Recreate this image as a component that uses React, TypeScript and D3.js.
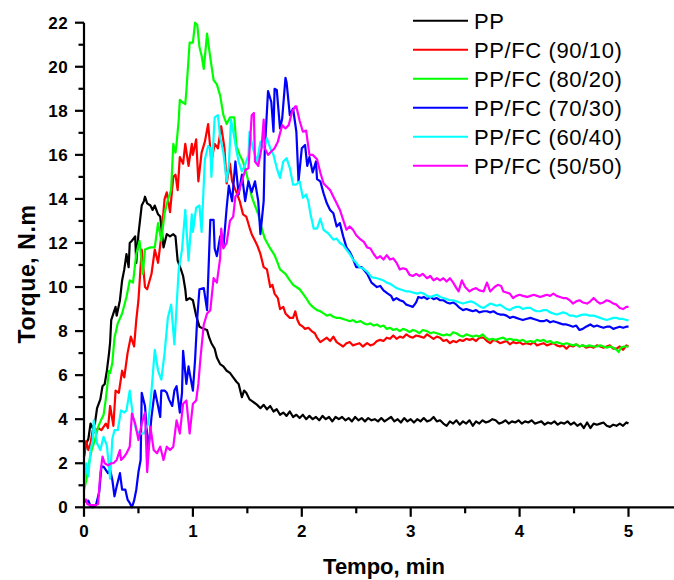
import React from "react";
import * as d3 from "d3";

const seriesNames = ["PP", "PP/FC (90/10)", "PP/FC (80/20)", "PP/FC (70/30)", "PP/FC (60/40)", "PP/FC (50/50)"];
const seriesColors = ["#000000", "#ff0000", "#00ff00", "#0000ff", "#00ffff", "#ff00ff"];
const xTicks = [0, 1, 2, 3, 4, 5];
const yTicks = [0, 2, 4, 6, 8, 10, 12, 14, 16, 18, 20, 22];
const xMinor = [0.5, 1.5, 2.5, 3.5, 4.5];
const yMinor = [1, 3, 5, 7, 9, 11, 13, 15, 17, 19, 21];
const xTitle = "Tempo, min";
const yTitle = "Torque, N.m";

const ppData: [number, number][] = [[0,2.3],[0.02,2.9],[0.04,3.1],[0.06,3.8],[0.08,3.6],[0.1,3.8],[0.12,4.5],[0.15,4.9],[0.17,5.5],[0.19,5.6],[0.21,6.2],[0.23,7.0],[0.24,7.5],[0.25,8.5],[0.27,8.8],[0.29,9.1],[0.3,8.7],[0.33,9.4],[0.35,10.3],[0.37,10.8],[0.39,11.5],[0.41,10.9],[0.42,12.0],[0.44,12.1],[0.47,12.3],[0.48,11.1],[0.5,12.4],[0.53,13.7],[0.55,13.9],[0.56,14.1],[0.58,13.8],[0.61,13.7],[0.63,13.5],[0.65,13.7],[0.68,13.3],[0.7,13.2],[0.73,11.8],[0.76,12.4],[0.79,12.3],[0.82,12.4],[0.84,12.3],[0.86,11.2],[0.89,10.8],[0.91,10.5],[0.93,9.9],[0.94,9.4],[0.97,9.5],[1.0,9.4],[1.03,8.7],[1.06,8.2],[1.1,8.1],[1.13,8.05],[1.15,7.7],[1.17,7.45],[1.2,7.2],[1.22,6.8],[1.25,6.5],[1.28,6.4],[1.31,6.2],[1.34,6.1],[1.37,5.9],[1.4,5.7],[1.42,5.6],[1.45,5.0],[1.47,5.3],[1.49,5.2],[1.52,4.9],[1.55,4.8],[1.59,4.65],[1.62,4.5],[1.65,4.65],[1.68,4.45],[1.71,4.6],[1.74,4.35],[1.77,4.45],[1.8,4.2],[1.83,4.3],[1.86,4.15],[1.89,4.35],[1.92,4.1],[1.95,4.2],[1.98,4.05],[2.01,4.2],[2.04,4.0],[2.07,4.15],[2.1,4.0],[2.13,4.1],[2.16,3.95],[2.19,4.15],[2.22,4.0],[2.25,4.1],[2.28,3.9],[2.31,4.1],[2.34,4.0],[2.37,4.1],[2.4,3.95],[2.43,4.05],[2.46,3.9],[2.49,4.1],[2.52,3.95],[2.55,4.05],[2.58,3.9],[2.61,4.05],[2.64,3.95],[2.67,4.0],[2.7,3.9],[2.73,4.05],[2.76,3.9],[2.79,4.0],[2.82,4.1],[2.85,3.9],[2.88,4.0],[2.91,3.85],[2.94,4.05],[2.97,3.9],[3.0,4.0],[3.03,3.85],[3.06,4.0],[3.09,3.9],[3.12,4.05],[3.15,3.9],[3.18,3.95],[3.21,4.1],[3.24,3.9],[3.27,3.95],[3.3,3.8],[3.33,3.7],[3.36,3.9],[3.39,3.8],[3.42,3.95],[3.45,3.75],[3.48,3.9],[3.51,3.8],[3.54,3.95],[3.57,3.7],[3.6,3.9],[3.63,3.8],[3.66,3.95],[3.69,3.85],[3.72,3.9],[3.75,4.0],[3.78,3.95],[3.81,3.8],[3.84,3.85],[3.87,3.95],[3.9,3.8],[3.93,3.9],[3.96,3.85],[3.99,3.95],[4.02,3.8],[4.05,3.9],[4.08,3.85],[4.11,3.95],[4.14,3.8],[4.17,3.85],[4.2,3.9],[4.23,3.75],[4.26,3.85],[4.29,3.8],[4.32,3.9],[4.35,3.75],[4.38,3.85],[4.41,3.8],[4.44,3.9],[4.47,3.75],[4.5,3.85],[4.53,3.7],[4.56,3.8],[4.59,3.6],[4.62,3.85],[4.65,3.6],[4.68,3.8],[4.71,3.75],[4.74,3.8],[4.77,3.85],[4.8,3.7],[4.83,3.65],[4.86,3.75],[4.89,3.7],[4.92,3.8],[4.95,3.7],[4.98,3.85],[5.0,3.8]];

const fc9010Data: [number, number][] = [[0,2.3],[0.02,3.0],[0.04,2.6],[0.06,2.9],[0.08,3.5],[0.1,3.4],[0.13,3.6],[0.16,3.5],[0.2,3.8],[0.22,3.6],[0.24,4.6],[0.27,3.7],[0.29,5.3],[0.32,5.2],[0.35,6.2],[0.37,5.9],[0.4,7.0],[0.43,7.75],[0.46,7.3],[0.48,8.5],[0.5,9.4],[0.53,11.7],[0.56,10.0],[0.58,9.9],[0.62,10.6],[0.65,11.7],[0.68,11.1],[0.71,12.3],[0.74,14.0],[0.76,14.3],[0.79,13.4],[0.82,15.0],[0.84,15.1],[0.86,14.4],[0.88,15.9],[0.91,15.6],[0.93,16.5],[0.96,15.5],[0.99,16.5],[1.0,16.0],[1.03,16.7],[1.05,14.8],[1.08,16.1],[1.11,16.6],[1.14,17.4],[1.17,15.7],[1.2,16.5],[1.23,16.3],[1.26,17.3],[1.29,16.3],[1.31,14.7],[1.34,15.6],[1.36,14.8],[1.4,14.3],[1.43,13.9],[1.46,13.3],[1.49,13.2],[1.52,12.7],[1.54,12.4],[1.57,12.1],[1.59,11.9],[1.62,11.5],[1.65,10.9],[1.68,10.8],[1.71,10.0],[1.73,10.1],[1.75,9.7],[1.78,9.5],[1.8,9.0],[1.83,9.1],[1.85,8.8],[1.89,8.6],[1.92,8.6],[1.94,8.9],[1.96,8.5],[1.98,8.3],[2.01,8.2],[2.03,8.1],[2.06,8.15],[2.09,8.0],[2.12,7.9],[2.14,7.7],[2.17,7.5],[2.2,7.6],[2.23,7.7],[2.26,7.55],[2.29,7.75],[2.32,7.5],[2.35,7.4],[2.38,7.3],[2.41,7.45],[2.44,7.5],[2.47,7.35],[2.5,7.4],[2.53,7.45],[2.56,7.3],[2.6,7.45],[2.63,7.35],[2.66,7.4],[2.69,7.55],[2.72,7.6],[2.75,7.55],[2.78,7.7],[2.81,7.65],[2.84,7.8],[2.87,7.65],[2.9,7.75],[2.93,7.7],[2.96,7.85],[2.99,7.75],[3.02,7.7],[3.05,7.8],[3.09,7.75],[3.12,7.7],[3.15,7.85],[3.18,7.75],[3.21,7.65],[3.24,7.75],[3.27,7.7],[3.3,7.55],[3.33,7.6],[3.36,7.45],[3.39,7.55],[3.42,7.5],[3.45,7.6],[3.48,7.55],[3.51,7.65],[3.54,7.6],[3.57,7.65],[3.6,7.55],[3.63,7.7],[3.67,7.7],[3.7,7.55],[3.73,7.45],[3.76,7.6],[3.79,7.55],[3.82,7.45],[3.85,7.5],[3.88,7.55],[3.91,7.4],[3.94,7.5],[3.97,7.45],[4.0,7.5],[4.03,7.4],[4.06,7.45],[4.1,7.4],[4.13,7.5],[4.16,7.35],[4.19,7.4],[4.22,7.45],[4.25,7.35],[4.28,7.4],[4.31,7.45],[4.34,7.35],[4.37,7.3],[4.4,7.35],[4.43,7.2],[4.46,7.35],[4.49,7.3],[4.52,7.4],[4.55,7.3],[4.58,7.35],[4.61,7.25],[4.65,7.3],[4.68,7.25],[4.71,7.35],[4.74,7.3],[4.77,7.25],[4.8,7.3],[4.83,7.35],[4.86,7.2],[4.89,7.2],[4.92,7.3],[4.95,7.15],[4.98,7.35],[5.0,7.3]];

const fc8020Data: [number, number][] = [[0,0.8],[0.02,1.2],[0.04,1.85],[0.07,2.6],[0.1,3.05],[0.13,3.65],[0.16,4.0],[0.18,4.2],[0.2,4.9],[0.23,6.2],[0.24,6.1],[0.26,6.55],[0.28,7.7],[0.31,8.35],[0.35,8.8],[0.39,9.55],[0.42,10.3],[0.45,10.2],[0.48,11.5],[0.51,12.1],[0.54,10.6],[0.56,11.7],[0.61,11.8],[0.65,11.8],[0.68,12.9],[0.71,12.1],[0.74,13.35],[0.77,13.95],[0.8,14.4],[0.82,16.5],[0.84,16.1],[0.85,16.5],[0.87,17.6],[0.88,18.5],[0.9,18.4],[0.93,18.3],[0.94,18.9],[0.97,21.1],[1.0,21.1],[1.02,22.0],[1.04,21.9],[1.06,20.9],[1.08,20.5],[1.1,19.9],[1.13,21.5],[1.16,20.4],[1.19,19.4],[1.22,19.2],[1.25,18.7],[1.28,17.8],[1.31,17.4],[1.34,17.7],[1.38,17.7],[1.4,16.4],[1.43,16.0],[1.46,15.7],[1.51,14.8],[1.54,14.1],[1.57,13.7],[1.6,13.3],[1.63,12.7],[1.66,12.2],[1.71,11.75],[1.75,11.45],[1.77,11.2],[1.8,10.8],[1.85,10.6],[1.89,10.3],[1.92,10.1],[1.95,10.0],[1.98,9.9],[2.01,9.7],[2.04,9.5],[2.07,9.25],[2.1,9.1],[2.14,8.95],[2.17,8.9],[2.2,8.8],[2.23,8.7],[2.26,8.75],[2.29,8.65],[2.32,8.6],[2.35,8.6],[2.38,8.55],[2.41,8.5],[2.44,8.45],[2.47,8.5],[2.5,8.4],[2.54,8.45],[2.57,8.35],[2.6,8.3],[2.63,8.35],[2.66,8.25],[2.69,8.3],[2.72,8.2],[2.75,8.25],[2.78,8.1],[2.81,8.15],[2.84,8.05],[2.87,8.1],[2.9,8.0],[2.93,8.1],[2.96,8.05],[2.99,7.95],[3.02,8.05],[3.05,8.0],[3.08,7.9],[3.11,8.05],[3.15,8.0],[3.18,7.9],[3.21,7.95],[3.24,7.9],[3.27,7.85],[3.3,7.8],[3.33,7.85],[3.36,7.8],[3.39,7.95],[3.42,7.9],[3.45,7.8],[3.48,7.75],[3.51,7.85],[3.54,7.8],[3.57,7.75],[3.6,7.8],[3.63,7.75],[3.66,7.85],[3.69,7.7],[3.72,7.6],[3.75,7.65],[3.78,7.6],[3.81,7.65],[3.85,7.7],[3.88,7.6],[3.91,7.65],[3.94,7.6],[3.97,7.6],[4.0,7.55],[4.03,7.6],[4.06,7.5],[4.1,7.55],[4.13,7.5],[4.16,7.6],[4.19,7.55],[4.22,7.6],[4.25,7.5],[4.28,7.55],[4.31,7.45],[4.34,7.5],[4.37,7.45],[4.4,7.4],[4.43,7.45],[4.46,7.4],[4.49,7.35],[4.52,7.4],[4.55,7.3],[4.58,7.35],[4.61,7.3],[4.64,7.35],[4.68,7.3],[4.71,7.3],[4.74,7.35],[4.77,7.3],[4.8,7.25],[4.83,7.3],[4.86,7.25],[4.89,7.15],[4.91,7.05],[4.93,7.25],[4.96,7.3],[5.0,7.3]];

const fc7030Data: [number, number][] = [[0,0.35],[0.02,0.25],[0.04,0.3],[0.06,0.05],[0.08,0.0],[0.11,0.1],[0.14,0.7],[0.16,1.85],[0.18,1.85],[0.2,1.7],[0.22,1.55],[0.24,1.7],[0.26,1.25],[0.28,0.5],[0.3,0.95],[0.33,1.55],[0.35,0.8],[0.38,0.8],[0.4,0.35],[0.42,0.2],[0.44,0.0],[0.46,0.3],[0.48,0.8],[0.5,1.6],[0.52,2.15],[0.53,5.2],[0.56,4.6],[0.59,2.6],[0.62,4.1],[0.65,5.3],[0.68,4.6],[0.7,4.1],[0.71,5.3],[0.74,5.3],[0.76,5.2],[0.78,4.9],[0.81,4.6],[0.83,5.3],[0.85,5.5],[0.88,4.3],[0.9,5.2],[0.91,7.1],[0.94,5.6],[0.96,6.4],[0.97,6.1],[1.0,5.3],[1.02,6.7],[1.04,8.6],[1.06,9.9],[1.1,9.95],[1.13,8.95],[1.16,13.05],[1.19,13.05],[1.2,11.75],[1.22,11.4],[1.25,12.3],[1.28,11.8],[1.31,13.6],[1.33,14.6],[1.36,13.9],[1.39,15.7],[1.42,14.2],[1.45,15.1],[1.48,13.9],[1.51,14.8],[1.54,14.3],[1.57,14.8],[1.6,13.9],[1.62,12.4],[1.65,13.9],[1.66,16.2],[1.69,18.9],[1.72,18.4],[1.74,17.05],[1.75,19.0],[1.77,18.95],[1.8,17.2],[1.82,17.65],[1.85,19.5],[1.86,19.3],[1.89,17.8],[1.92,18.1],[1.95,17.05],[1.97,14.8],[2.0,16.3],[2.03,16.45],[2.05,15.5],[2.07,15.9],[2.1,15.2],[2.13,15.7],[2.14,14.9],[2.17,14.8],[2.2,14.25],[2.23,13.8],[2.26,13.5],[2.29,13.35],[2.32,12.75],[2.35,12.9],[2.38,12.3],[2.41,11.8],[2.44,11.6],[2.46,11.4],[2.5,10.9],[2.55,10.9],[2.6,10.6],[2.64,10.2],[2.69,10.0],[2.72,10.05],[2.75,9.85],[2.79,9.7],[2.82,9.6],[2.84,9.4],[2.87,9.5],[2.9,9.4],[2.93,9.35],[2.96,9.2],[2.99,9.15],[3.02,9.1],[3.05,9.3],[3.07,9.55],[3.1,9.5],[3.12,9.55],[3.15,9.45],[3.18,9.55],[3.21,9.45],[3.24,9.5],[3.27,9.4],[3.3,9.4],[3.33,9.3],[3.36,9.25],[3.39,9.3],[3.42,9.2],[3.45,9.05],[3.48,8.95],[3.51,9.0],[3.54,8.95],[3.57,8.9],[3.6,8.95],[3.63,8.85],[3.67,8.9],[3.7,8.9],[3.73,8.85],[3.76,8.9],[3.79,8.8],[3.82,8.75],[3.85,8.75],[3.88,8.7],[3.91,8.6],[3.94,8.65],[3.97,8.6],[4.0,8.55],[4.03,8.5],[4.06,8.55],[4.1,8.6],[4.13,8.55],[4.16,8.5],[4.19,8.45],[4.22,8.45],[4.25,8.5],[4.28,8.4],[4.31,8.45],[4.34,8.4],[4.37,8.35],[4.4,8.3],[4.43,8.3],[4.46,8.25],[4.49,8.2],[4.52,8.25],[4.55,8.05],[4.58,8.1],[4.61,8.2],[4.65,8.3],[4.68,8.2],[4.71,8.25],[4.74,8.2],[4.77,8.15],[4.8,8.2],[4.83,8.2],[4.86,8.1],[4.89,8.15],[4.92,8.2],[4.95,8.15],[4.98,8.2],[5.0,8.2]];

const fc6040Data: [number, number][] = [[0,0.9],[0.02,2.0],[0.04,1.4],[0.06,2.6],[0.08,3.05],[0.09,3.95],[0.12,2.9],[0.15,2.6],[0.18,3.2],[0.21,2.8],[0.24,1.3],[0.26,3.1],[0.28,3.5],[0.31,3.5],[0.34,4.4],[0.37,4.3],[0.39,4.4],[0.42,5.3],[0.45,4.1],[0.48,3.5],[0.51,3.35],[0.55,3.35],[0.59,3.8],[0.62,5.3],[0.65,7.15],[0.68,6.2],[0.71,5.8],[0.74,7.0],[0.77,8.6],[0.8,9.2],[0.83,7.4],[0.87,10.8],[0.9,11.7],[0.93,13.5],[0.96,11.2],[0.99,13.3],[1.0,12.5],[1.03,13.6],[1.06,13.7],[1.08,12.5],[1.11,15.8],[1.14,16.4],[1.16,16.3],[1.17,15.0],[1.2,17.7],[1.23,17.8],[1.25,16.8],[1.28,16.1],[1.31,14.8],[1.33,15.5],[1.35,17.6],[1.38,16.8],[1.4,16.2],[1.42,15.7],[1.45,15.25],[1.48,15.55],[1.51,16.0],[1.52,17.05],[1.55,16.3],[1.59,15.7],[1.62,16.6],[1.65,16.3],[1.68,16.75],[1.71,16.3],[1.74,16.0],[1.77,15.4],[1.8,14.95],[1.83,15.7],[1.86,15.85],[1.89,15.4],[1.92,14.65],[1.95,14.65],[1.98,14.8],[2.01,14.05],[2.04,14.2],[2.06,13.9],[2.08,13.3],[2.11,12.65],[2.14,12.65],[2.17,13.1],[2.2,12.6],[2.24,12.45],[2.29,12.15],[2.32,12.2],[2.35,12.0],[2.38,11.9],[2.41,11.7],[2.44,11.5],[2.47,11.25],[2.5,11.1],[2.53,10.9],[2.56,10.85],[2.6,10.7],[2.64,10.45],[2.69,10.4],[2.72,10.35],[2.75,10.3],[2.78,10.2],[2.81,10.15],[2.84,10.05],[2.87,9.95],[2.9,9.9],[2.93,9.85],[2.96,9.8],[2.99,9.8],[3.02,9.75],[3.06,9.7],[3.09,9.75],[3.12,9.7],[3.15,9.6],[3.18,9.55],[3.21,9.6],[3.24,9.65],[3.27,9.55],[3.3,9.5],[3.33,9.45],[3.36,9.4],[3.39,9.4],[3.42,9.35],[3.45,9.3],[3.48,9.25],[3.51,9.3],[3.55,9.35],[3.58,9.3],[3.61,9.2],[3.64,9.1],[3.67,9.05],[3.7,9.15],[3.73,9.25],[3.76,9.2],[3.79,9.15],[3.82,9.2],[3.85,9.1],[3.88,9.0],[3.91,8.95],[3.94,9.05],[3.97,9.1],[4.0,9.1],[4.03,9.0],[4.06,9.05],[4.1,9.05],[4.13,8.95],[4.16,8.9],[4.19,8.9],[4.22,8.95],[4.25,8.95],[4.28,8.85],[4.31,8.8],[4.34,8.75],[4.37,8.8],[4.4,8.85],[4.43,8.8],[4.46,8.7],[4.49,8.7],[4.52,8.65],[4.55,8.7],[4.58,8.75],[4.61,8.75],[4.64,8.7],[4.68,8.7],[4.71,8.65],[4.74,8.6],[4.77,8.55],[4.8,8.5],[4.83,8.55],[4.86,8.6],[4.89,8.6],[4.92,8.55],[4.95,8.55],[4.98,8.5],[5.0,8.5]];

const fc5050Data: [number, number][] = [[0,0.35],[0.02,0.35],[0.03,0.15],[0.05,0.1],[0.08,0.1],[0.11,0.1],[0.13,0.15],[0.15,1.55],[0.17,2.3],[0.19,2.0],[0.22,1.9],[0.25,2.0],[0.27,2.0],[0.3,2.15],[0.33,2.6],[0.34,2.15],[0.37,2.3],[0.39,2.45],[0.42,2.75],[0.44,4.25],[0.47,3.8],[0.5,3.05],[0.53,3.8],[0.56,4.3],[0.58,1.6],[0.61,3.65],[0.64,2.6],[0.67,2.45],[0.7,2.75],[0.73,2.15],[0.76,2.75],[0.79,2.6],[0.82,2.75],[0.85,3.95],[0.88,3.35],[0.91,4.7],[0.94,4.85],[0.97,3.35],[1.0,4.7],[1.03,4.85],[1.05,5.6],[1.07,6.8],[1.1,8.3],[1.13,8.8],[1.16,8.95],[1.19,10.4],[1.22,10.2],[1.25,11.3],[1.26,12.65],[1.28,11.75],[1.31,12.0],[1.34,13.0],[1.37,13.2],[1.39,14.1],[1.42,14.3],[1.45,14.8],[1.48,15.3],[1.51,15.4],[1.54,17.8],[1.56,17.9],[1.57,15.7],[1.6,15.5],[1.63,16.3],[1.65,17.6],[1.66,16.3],[1.69,16.0],[1.72,16.15],[1.75,16.3],[1.78,16.6],[1.82,17.35],[1.85,17.2],[1.88,17.35],[1.91,17.95],[1.94,18.2],[1.95,18.2],[1.98,17.55],[2.01,17.05],[2.04,17.1],[2.07,16.0],[2.1,16.0],[2.14,15.8],[2.17,15.2],[2.2,14.7],[2.23,14.55],[2.26,14.4],[2.29,14.1],[2.32,13.8],[2.35,13.5],[2.38,13.05],[2.41,12.6],[2.44,12.75],[2.47,12.6],[2.5,12.35],[2.53,12.2],[2.57,12.05],[2.6,11.8],[2.63,11.75],[2.66,11.5],[2.69,11.3],[2.72,11.4],[2.75,11.25],[2.78,11.45],[2.81,11.25],[2.84,11.3],[2.87,11.1],[2.9,10.8],[2.93,10.85],[2.96,10.8],[2.99,10.55],[3.02,10.5],[3.05,10.6],[3.08,10.5],[3.11,10.6],[3.15,10.4],[3.18,10.5],[3.21,10.3],[3.24,10.4],[3.27,10.3],[3.3,10.4],[3.33,10.25],[3.36,10.4],[3.39,10.2],[3.42,9.95],[3.44,9.8],[3.47,10.3],[3.5,10.0],[3.54,9.8],[3.57,9.9],[3.6,9.95],[3.63,9.85],[3.67,9.8],[3.7,10.2],[3.73,9.8],[3.77,10.0],[3.8,10.1],[3.83,10.05],[3.85,9.8],[3.88,9.75],[3.91,9.7],[3.94,9.5],[3.97,9.6],[4.0,9.65],[4.03,9.6],[4.07,9.55],[4.1,9.6],[4.13,9.65],[4.16,9.6],[4.19,9.55],[4.22,9.6],[4.25,9.65],[4.28,9.6],[4.31,9.7],[4.34,9.6],[4.37,9.55],[4.4,9.5],[4.43,9.5],[4.46,9.4],[4.49,9.25],[4.52,9.35],[4.55,9.4],[4.58,9.3],[4.62,9.25],[4.65,9.35],[4.68,9.5],[4.71,9.35],[4.74,9.25],[4.77,9.3],[4.8,9.4],[4.83,9.35],[4.86,9.25],[4.89,9.2],[4.92,9.05],[4.95,9.0],[4.98,9.1],[5.0,9.1]];

const allData = [ppData, fc9010Data, fc8020Data, fc7030Data, fc6040Data, fc5050Data];

const W = 674;
const H = 580;
const FONT = "'Liberation Sans', Arial, Helvetica, sans-serif";

export default function App() {
  const x = d3.scaleLinear().domain([0, 5]).range([84, 628.5]);
  const y = d3.scaleLinear().domain([0, 22]).range([507.3, 22.7]);
  const line = d3
    .line<[number, number]>()
    .x((d) => x(d[0]))
    .y((d) => y(d[1]));

  const x0 = x(0);
  const y0 = y(0);

  return (
    <svg
      width={W}
      height={H}
      style={{ position: "absolute", left: 0, top: 0, background: "#fff" }}
      fontFamily={FONT}
    >
      <rect x={0} y={0} width={W} height={H} fill="#fff" />
      {allData.map((data, i) => (
        <path
          key={i}
          d={line(data) || ""}
          fill="none"
          stroke={seriesColors[i]}
          strokeWidth={2.2}
          strokeLinejoin="round"
        />
      ))}
      <line x1={x0} x2={x0} y1={y(22)} y2={y0} stroke="#000" strokeWidth={2.2} />
      {yTicks.map((t) => (
        <g key={"yt" + t}>
          <line x1={x0 - 9} x2={x0} y1={y(t)} y2={y(t)} stroke="#000" strokeWidth={2.2} />
          <text
            x={68}
            y={y(t)}
            dy="0.36em"
            textAnchor="end"
            fontSize={17}
            fontWeight="bold"
            letterSpacing={0.4}
          >
            {t}
          </text>
        </g>
      ))}
      {yMinor.map((t) => (
        <line key={"ym" + t} x1={x0 - 5.5} x2={x0} y1={y(t)} y2={y(t)} stroke="#000" strokeWidth={2.2} />
      ))}
      <line x1={x0 - 1} x2={W} y1={y0} y2={y0} stroke="#000" strokeWidth={2.2} />
      {xTicks.map((t) => (
        <g key={"xt" + t}>
          <line x1={x(t)} x2={x(t)} y1={y0} y2={y0 + 9.5} stroke="#000" strokeWidth={2.2} />
          <text x={x(t)} y={537} textAnchor="middle" fontSize={17} fontWeight="bold">
            {t}
          </text>
        </g>
      ))}
      {xMinor.map((t) => (
        <line key={"xm" + t} x1={x(t)} x2={x(t)} y1={y0} y2={y0 + 6} stroke="#000" strokeWidth={2.2} />
      ))}
      <text x={384} y={573.5} textAnchor="middle" fontSize={22} fontWeight="bold">
        {xTitle}
      </text>
      <text
        transform={`translate(35, 274) rotate(-90)`}
        textAnchor="middle"
        fontSize={23}
        fontWeight="bold"
        letterSpacing={0.6}
      >
        {yTitle}
      </text>
      {seriesNames.map((name, i) => {
        const ly = 20.7 + i * 29;
        return (
          <g key={"lg" + i}>
            <line x1={413} x2={468} y1={ly} y2={ly} stroke={seriesColors[i]} strokeWidth={2} />
            <text x={474} y={ly} dy="0.36em" fontSize={22} letterSpacing={0.6}>
              {name}
            </text>
          </g>
        );
      })}
    </svg>
  );
}
